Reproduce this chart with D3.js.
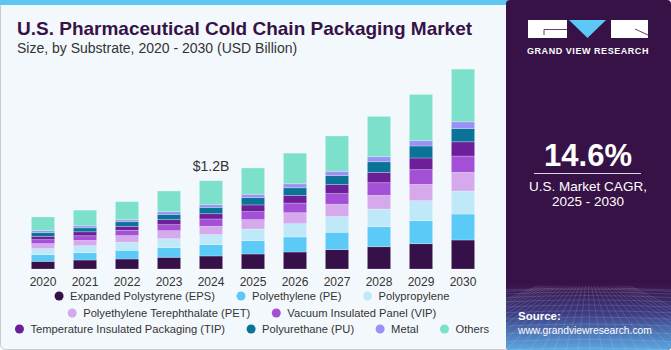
<!DOCTYPE html>
<html>
<head>
<meta charset="utf-8">
<script src="https://cdn.jsdelivr.net/npm/d3@7"></script>
<style>
  body { margin: 0; background: #ffffff; }
  svg { display: block; font-family: "Liberation Sans", Arial, sans-serif; }
</style>
</head>
<body>
<div id="chart"></div>
<script>
// data (USD billion)
const years = ["2020", "2021", "2022", "2023", "2024", "2025", "2026", "2027", "2028", "2029", "2030"];
const substrates = ["Expanded Polystyrene (EPS)", "Polyethylene (PE)", "Polypropylene",
    "Polyethylene Terephthalate (PET)", "Vacuum Insulated Panel (VIP)",
    "Temperature Insulated Packaging (TIP)", "Polyurethane (PU)", "Metal", "Others"];
const eps    = [0.104, 0.122, 0.136, 0.159, 0.177, 0.204, 0.231, 0.263, 0.303, 0.344, 0.394];
const pe     = [0.091, 0.100, 0.118, 0.131, 0.154, 0.181, 0.204, 0.236, 0.272, 0.313, 0.353];
const pp     = [0.082, 0.095, 0.109, 0.122, 0.136, 0.159, 0.181, 0.213, 0.240, 0.272, 0.313];
const pet    = [0.068, 0.072, 0.091, 0.109, 0.113, 0.127, 0.149, 0.168, 0.186, 0.222, 0.254];
const vip    = [0.054, 0.063, 0.072, 0.082, 0.100, 0.109, 0.131, 0.145, 0.172, 0.199, 0.221];
const tip    = [0.045, 0.054, 0.054, 0.068, 0.072, 0.091, 0.104, 0.122, 0.140, 0.159, 0.194];
const pu     = [0.050, 0.054, 0.063, 0.072, 0.086, 0.100, 0.104, 0.122, 0.145, 0.163, 0.181];
const metal  = [0.027, 0.027, 0.027, 0.036, 0.036, 0.045, 0.054, 0.059, 0.068, 0.072, 0.091];
const others = [0.186, 0.213, 0.245, 0.281, 0.326, 0.358, 0.417, 0.480, 0.548, 0.629, 0.716];
const series = [eps, pe, pp, pet, vip, tip, pu, metal, others];
const colors = ["#361049", "#5ccaf6", "#bfe9f9", "#d5a9ec", "#a34fd6", "#6c1f99", "#0b7397", "#9a91f6", "#7ce0cb"];
const legendRows = [[0, 1, 2], [3, 4], [5, 6, 7, 8]];
const callout = { year: "2024", text: "$1.2B" };

const W = 671, H = 350;
const svg = d3.select("#chart").append("svg")
    .attr("width", W)
    .attr("height", H);

// panels
svg.append("rect")
    .attr("x", 0.5).attr("y", 0.5)
    .attr("width", 510).attr("height", H - 1)
    .attr("rx", 5)
    .attr("fill", "#f3f8fc")
    .attr("stroke", "#c9cbce");
svg.append("rect")
    .attr("x", 0).attr("y", 0)
    .attr("width", 508).attr("height", 5)
    .attr("fill", "#5fc6f0");

// titles
svg.append("text")
    .attr("x", 17).attr("y", 35)
    .attr("fill", "#371247")
    .style("font-size", "19px")
    .style("font-weight", "900")
    .text("U.S. Pharmaceutical Cold Chain Packaging Market");
svg.append("text")
    .attr("x", 17).attr("y", 53)
    .attr("fill", "#333")
    .style("font-size", "14px")
    .text("Size, by Substrate, 2020 - 2030 (USD Billion)");

// scales
const x = d3.scaleBand()
    .domain(years)
    .range([22, 484])
    .paddingInner(0.446)
    .paddingOuter(0.223);

const y = d3.scaleLinear()
    .domain([0, 2.8])
    .range([269, 63]);

const stackData = years.map((yr, i) => {
    const row = { year: yr };
    substrates.forEach((s, j) => row[s] = series[j][i]);
    return row;
});
const stacked = d3.stack().keys(substrates)(stackData);

const g = svg.append("g");
g.selectAll("g.layer")
    .data(stacked)
    .enter()
    .append("g")
    .attr("class", "layer")
    .attr("fill", (d, i) => colors[i])
    .selectAll("rect")
    .data(d => d)
    .enter()
    .append("rect")
    .attr("x", d => x(d.data.year))
    .attr("y", d => y(d[1]))
    .attr("width", x.bandwidth())
    .attr("height", d => y(d[0]) - y(d[1]))
    .attr("stroke", "#ffffff")
    .attr("stroke-opacity", 0.3)
    .attr("stroke-width", 0.8);

// x axis (labels only)
const xAxis = d3.axisBottom(x).tickSize(0).tickPadding(8);
const ax = svg.append("g")
    .attr("transform", "translate(0," + y(0) + ")")
    .call(xAxis);
ax.select(".domain").remove();
ax.selectAll("text")
    .attr("fill", "#333")
    .style("font-size", "12px")
    .style("font-family", "'Liberation Sans', Arial, sans-serif");

// callout over 2024
const calloutIdx = years.indexOf(callout.year);
const calloutTotal = d3.sum(series, s => s[calloutIdx]);
svg.append("text")
    .attr("x", x(callout.year) + x.bandwidth() / 2)
    .attr("y", y(calloutTotal) - 10)
    .attr("text-anchor", "middle")
    .attr("fill", "#333")
    .style("font-size", "14px")
    .text(callout.text);

// legend
const legendY = [296, 313, 329];
legendRows.forEach((row, r) => {
    const lg = svg.append("g");
    let cx = 0;
    row.forEach((k, n) => {
        const item = lg.append("g").attr("transform", "translate(" + cx + ",0)");
        item.append("circle")
            .attr("cx", 0).attr("cy", 0).attr("r", 4.5)
            .attr("fill", colors[k]);
        const t = item.append("text")
            .attr("x", 11).attr("y", 4)
            .attr("fill", "#333")
            .style("font-size", "11.2px")
            .text(substrates[k]);
        cx += 11 + t.node().getComputedTextLength() + 26;
    });
    const rowW = cx - 26 + 4.5;
    lg.attr("transform", "translate(" + (252 - rowW / 2 + 4.5) + "," + legendY[r] + ")");
});

// right panel
const px = 506;
const defs = svg.append("defs");
const grad = defs.append("linearGradient")
    .attr("id", "fade")
    .attr("x1", 0).attr("y1", 0).attr("x2", 0).attr("y2", 1);
grad.append("stop").attr("offset", "0%").attr("stop-color", "#371247");
grad.append("stop").attr("offset", "45%").attr("stop-color", "#3d3b82");
grad.append("stop").attr("offset", "100%").attr("stop-color", "#5aa9e2");

defs.append("clipPath").attr("id", "panelClip")
    .append("rect")
    .attr("x", px).attr("y", 0)
    .attr("width", W - px).attr("height", H)
    .attr("rx", 4);

const rp = svg.append("g").attr("clip-path", "url(#panelClip)");
rp.append("rect")
    .attr("x", px).attr("y", 0)
    .attr("width", W - px).attr("height", H)
    .attr("fill", "#371247");
rp.append("rect")
    .attr("x", px).attr("y", 283)
    .attr("width", W - px).attr("height", H - 283)
    .attr("fill", "url(#fade)");

// perspective grid in the footer
const grid = rp.append("g")
    .attr("stroke", "#ffffff")
    .attr("stroke-opacity", 0.18)
    .attr("stroke-width", 0.7)
    .attr("fill", "none");
d3.range(0, 12).forEach(i => {
    const yy = 290 + Math.pow(i / 11, 1.6) * 60;
    grid.append("path")
        .attr("d", "M" + px + "," + yy + " Q" + (px + 82) + "," + (yy - 4) + " " + W + "," + yy);
});
d3.range(-10, 22).forEach(i => {
    const bx = px + i * 12;
    grid.append("line")
        .attr("x1", px + 82 + (bx - px - 82) * 0.25).attr("y1", 286)
        .attr("x2", bx).attr("y2", H);
});

// logo
const logo = svg.append("g");
logo.append("rect").attr("x", 528).attr("y", 20).attr("width", 39).attr("height", 18).attr("fill", "#ffffff");
logo.append("path").attr("d", "M569,20 L606,20 L587.5,38 Z").attr("fill", "#5cc8f5");
logo.append("rect").attr("x", 611).attr("y", 20).attr("width", 37).attr("height", 18).attr("fill", "#ffffff");
logo.append("path")
    .attr("d", "M567,29.5 L544,29.5 L544,35")
    .attr("stroke", "#371247").attr("stroke-width", 0.8).attr("fill", "none");
logo.append("path")
    .attr("d", "M635,29 L648,35")
    .attr("stroke", "#371247").attr("stroke-width", 0.8).attr("fill", "none");
svg.append("text")
    .attr("x", 588).attr("y", 53.5)
    .attr("text-anchor", "middle")
    .attr("fill", "#ffffff")
    .style("font-size", "9px")
    .style("font-weight", "bold")
    .style("letter-spacing", "0.55px")
    .text("GRAND VIEW RESEARCH");

// CAGR block
svg.append("text")
    .attr("x", 588).attr("y", 166)
    .attr("text-anchor", "middle")
    .attr("fill", "#ffffff")
    .style("font-size", "31px")
    .style("font-weight", "bold")
    .text("14.6%");
svg.append("line")
    .attr("x1", 534).attr("x2", 641)
    .attr("y1", 173.5).attr("y2", 173.5)
    .attr("stroke", "#d9d2e0")
    .attr("stroke-width", 1);
svg.append("text")
    .attr("x", 588).attr("y", 191)
    .attr("text-anchor", "middle")
    .attr("fill", "#ffffff")
    .style("font-size", "13.5px")
    .text("U.S. Market CAGR,");
svg.append("text")
    .attr("x", 588).attr("y", 206)
    .attr("text-anchor", "middle")
    .attr("fill", "#ffffff")
    .style("font-size", "13.5px")
    .text("2025 - 2030");

// source
svg.append("text")
    .attr("x", 518).attr("y", 320)
    .attr("fill", "#ffffff")
    .style("font-size", "11.5px")
    .style("font-weight", "bold")
    .text("Source:");
svg.append("text")
    .attr("x", 518).attr("y", 334)
    .attr("fill", "#ffffff")
    .style("font-size", "10.3px")
    .text("www.grandviewresearch.com");
</script>
</body>
</html>
